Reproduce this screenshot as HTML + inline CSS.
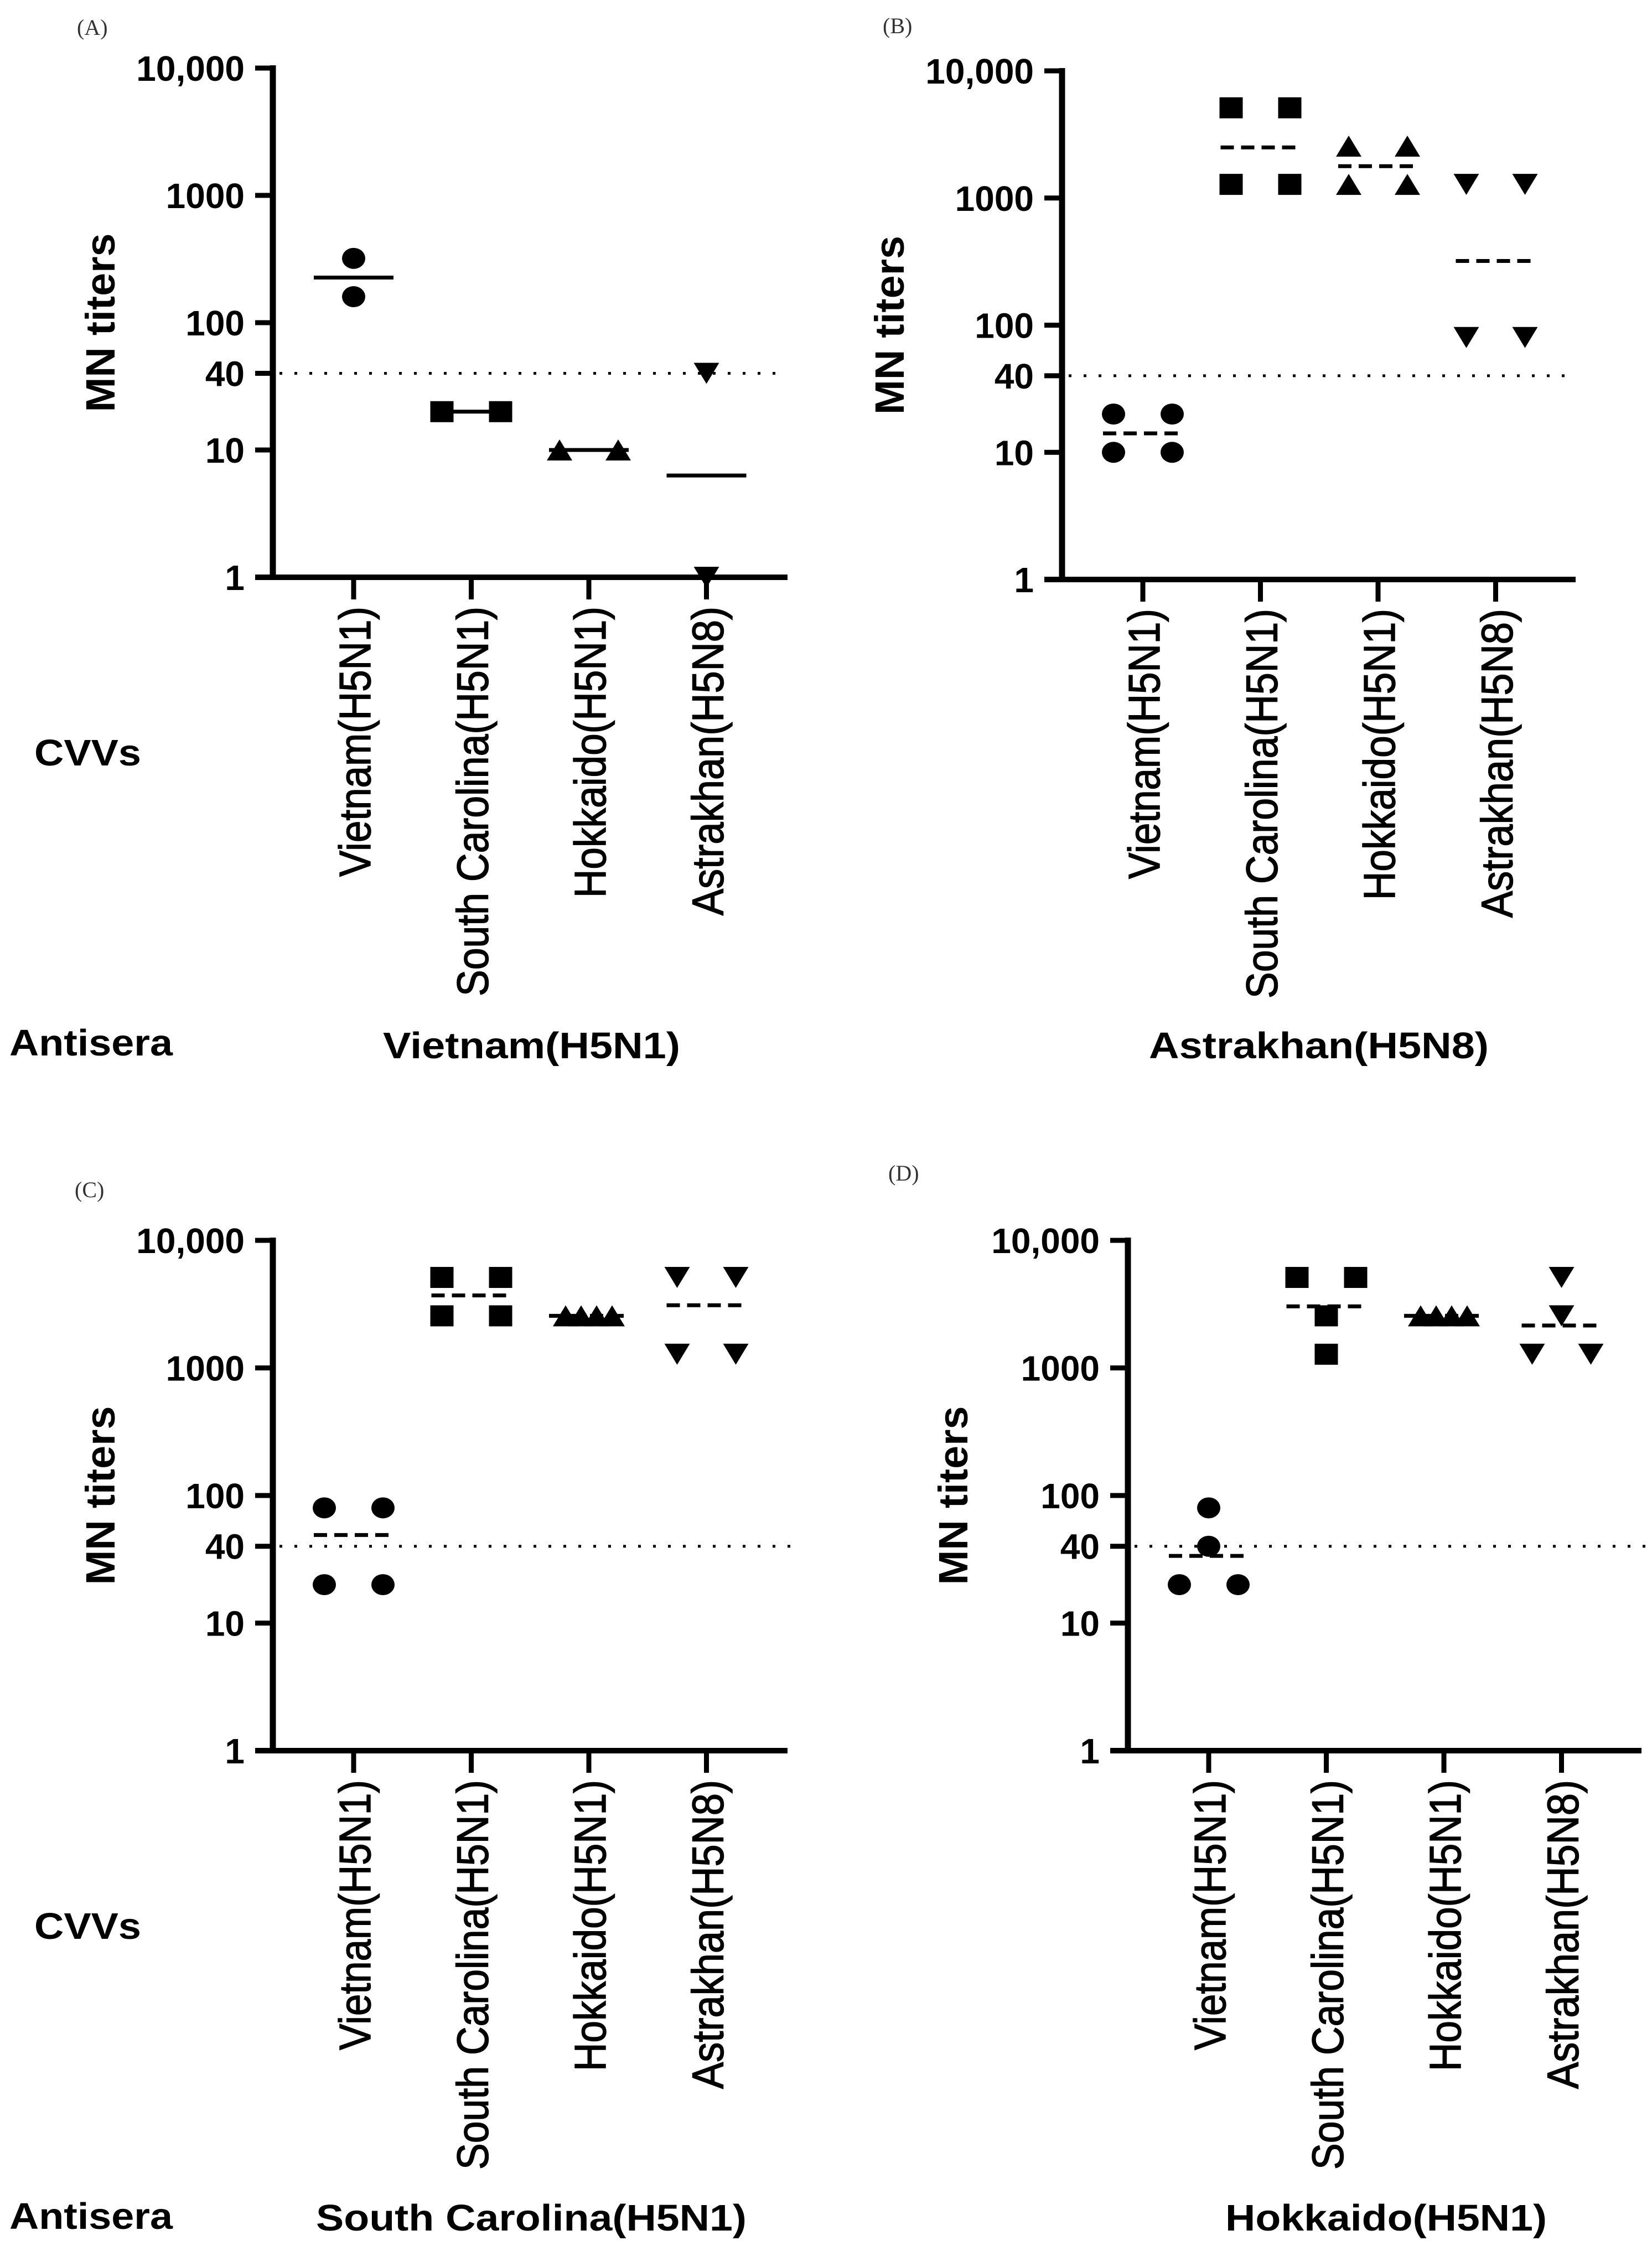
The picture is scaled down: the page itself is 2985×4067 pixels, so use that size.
<!DOCTYPE html>
<html><head><meta charset="utf-8"><style>
html,body{margin:0;padding:0;background:#fff}
svg{display:block}
</style></head><body>
<svg id="fig" width="2985" height="4067" viewBox="0 0 2985 4067" xmlns="http://www.w3.org/2000/svg" font-family="Liberation Sans, Arial, sans-serif"></svg>
<script>
// ---- data ----
const categories = ["Vietnam(H5N1)","South Carolina(H5N1)","Hokkaido(H5N1)","Astrakhan(H5N8)"];
const yTickValues = [1,10,40,100,1000,10000];
const yTickLabels = ["1","10","40","100","1000","10,000"];
const thresholdValue = 40;
const antiseraNames = ["Vietnam(H5N1)","Astrakhan(H5N8)","South Carolina(H5N1)","Hokkaido(H5N1)"];
const panelLetters = ["(A)","(B)","(C)","(D)"];
// titer values per panel, per CVV group
const titersA = [[320,160],[20,20],[10,10],[40,1]];
const titersB = [[20,20,10,10],[5120,5120,1280,1280],[2560,2560,1280,1280],[1280,1280,80,80]];
const titersC = [[80,80,20,20],[5120,5120,2560,2560],[2560,2560,2560,2560],[5120,5120,1280,1280]];
const titersD = [[80,40,20,20],[5120,5120,2560,1280],[2560,2560,2560,2560],[5120,2560,1280,1280]];
// group mean lines
const meansA = [226,20,10,6.3];
const meansB = [14.1,2500,1780,320];
const meansC = [49,3700,2560,3100];
const meansD = [33.6,3040,2560,2150];

// ---- layout (not data) ----
const panels = [
  {ax:493, y1:1043, y4:123, xEnd:1423, dotEnd:1418, titleX:207, letter:[139,63], sub:[692,1229,1912], side:true, titers:titersA, means:meansA, solid:true, jit:[[0,0],[-53,53],[-53,53],[0,0]]},
  {ax:1919, y1:1047, y4:128, xEnd:2847, dotEnd:2845, titleX:1633, letter:[1595,60], sub:[2076,2690,1912], side:false, titers:titersB, means:meansB, solid:false, jit:[[-53,53,-53,53],[-53,53,-53,53],[-53,53,-53,53],[-53,53,-53,53]]},
  {ax:493, y1:3163, y4:2241, xEnd:1423, dotEnd:1440, titleX:207, letter:[135,2163], sub:[571,1349,4030], side:true, titers:titersC, means:meansC, solid:false, jit:[[-53,53,-53,53],[-53,53,-53,53],[-42,-14,14,42],[-53,53,-53,53]]},
  {ax:2038, y1:3163, y4:2241, xEnd:2966, dotEnd:2985, titleX:1748, letter:[1605,2133], sub:[2214,2795,4030], side:false, titers:titersD, means:meansD, solid:false, jit:[[0,0,-53,53],[-53,53,0,0],[-42,-14,14,42],[0,0,-53,53]]}
];
const labelLens = [488,704,526,558];
const shapes = ["circle","square","up","down"];
const NS = "http://www.w3.org/2000/svg";
const svg = document.getElementById("fig");
function el(tag, attrs, parent){
  const e = document.createElementNS(NS, tag);
  for (const k in attrs) e.setAttribute(k, attrs[k]);
  (parent||svg).appendChild(e);
  return e;
}
function txt(parent, s, attrs){ const t = el("text", attrs, parent); t.textContent = s; return t; }

panels.forEach((p, pi) => {
  const g = el("g", {});
  
  
  const yScale = v => p.y1 - Math.log10(v) * (p.y1 - p.y4) / 4;
  const xCat = i => p.ax + 146 + i * 212.5;

  const lt = txt(g, panelLetters[pi], {x:p.letter[0], y:p.letter[1], "font-family":"Liberation Serif, serif", "font-size":40, fill:"#333"});
  
  

  const th = el("line", {x1:p.ax+12, x2:p.dotEnd, y1:yScale(thresholdValue), y2:yScale(thresholdValue), stroke:"#000", "stroke-width":5, "stroke-dasharray":"5 22"}, g);
  
  

  const ya = el("line", {x1:p.ax, x2:p.ax, y1:p.y4-5, y2:p.y1+5, stroke:"#000", "stroke-width":11}, g);
  
  
  const xa = el("line", {x1:p.ax-32, x2:p.xEnd, y1:p.y1, y2:p.y1, stroke:"#000", "stroke-width":10}, g);
  
  

  yTickValues.forEach((v, i) => {
    const y = yScale(v);
    const tk = el("line", {x1:p.ax-32, x2:p.ax, y1:y, y2:y, stroke:"#000", "stroke-width":9}, g);
    
    
    const tl = txt(g, yTickLabels[i], {x:p.ax-51, y:y+23, "text-anchor":"end", "font-size":64, "font-weight":"bold"});
    
    
  });

  const yt = txt(g, "MN titers", {transform:`translate(${p.titleX},${(p.y1+p.y4)/2}) rotate(-90)`, "text-anchor":"middle", "font-size":74, "font-weight":"bold", textLength:323, lengthAdjust:"spacingAndGlyphs"});
  
  

  categories.forEach((c, i) => {
    const x = xCat(i);
    const tk = el("line", {x1:x, x2:x, y1:p.y1, y2:p.y1+40, stroke:"#000", "stroke-width":9}, g);
    
    
    const cl = txt(g, c, {transform:`translate(${x+30},${p.y1+53}) rotate(-90)`, "text-anchor":"end", "font-size":80, stroke:"#000", "stroke-width":1.5, textLength:labelLens[i], lengthAdjust:"spacingAndGlyphs"});
    
    

    const my = yScale(p.means[i]);
    const ml = el("line", {x1:x-72, x2:x+72, y1:my, y2:my, stroke:"#000", "stroke-width":7}, g);
    if (!p.solid) ml.setAttribute("stroke-dasharray", "24 13");
    
    

    p.titers[i].forEach((v, k) => {
      const cx = x + p.jit[i][k];
      const cy = yScale(v);
      let m;
      if (shapes[i] === "circle") m = el("ellipse", {cx:cx, cy:cy, rx:21, ry:19}, g);
      else if (shapes[i] === "square") m = el("rect", {x:cx-21, y:cy-19, width:42, height:38}, g);
      else if (shapes[i] === "up") m = el("polygon", {points:`${cx-23},${cy+19} ${cx+23},${cy+19} ${cx},${cy-19}`}, g);
      else m = el("polygon", {points:`${cx-23},${cy-19} ${cx+23},${cy-19} ${cx},${cy+19}`}, g);
      m.setAttribute("fill", "#000");
      
      
    });
  });

  if (p.side) {
    const cv = txt(g, "CVVs", {x:62, y:p.y1+340, "font-size":67, "font-weight":"bold", textLength:193, lengthAdjust:"spacingAndGlyphs"});
    
    
    const an = txt(g, "Antisera", {x:17, y:p.y1+864, "font-size":67, "font-weight":"bold", textLength:295, lengthAdjust:"spacingAndGlyphs"});
    
    
  }
  const st = txt(g, antiseraNames[pi], {x:p.sub[0], y:p.sub[2], "font-size":67, "font-weight":"bold", textLength:p.sub[1]-p.sub[0], lengthAdjust:"spacingAndGlyphs"});
  
  
});
</script>
</body></html>
